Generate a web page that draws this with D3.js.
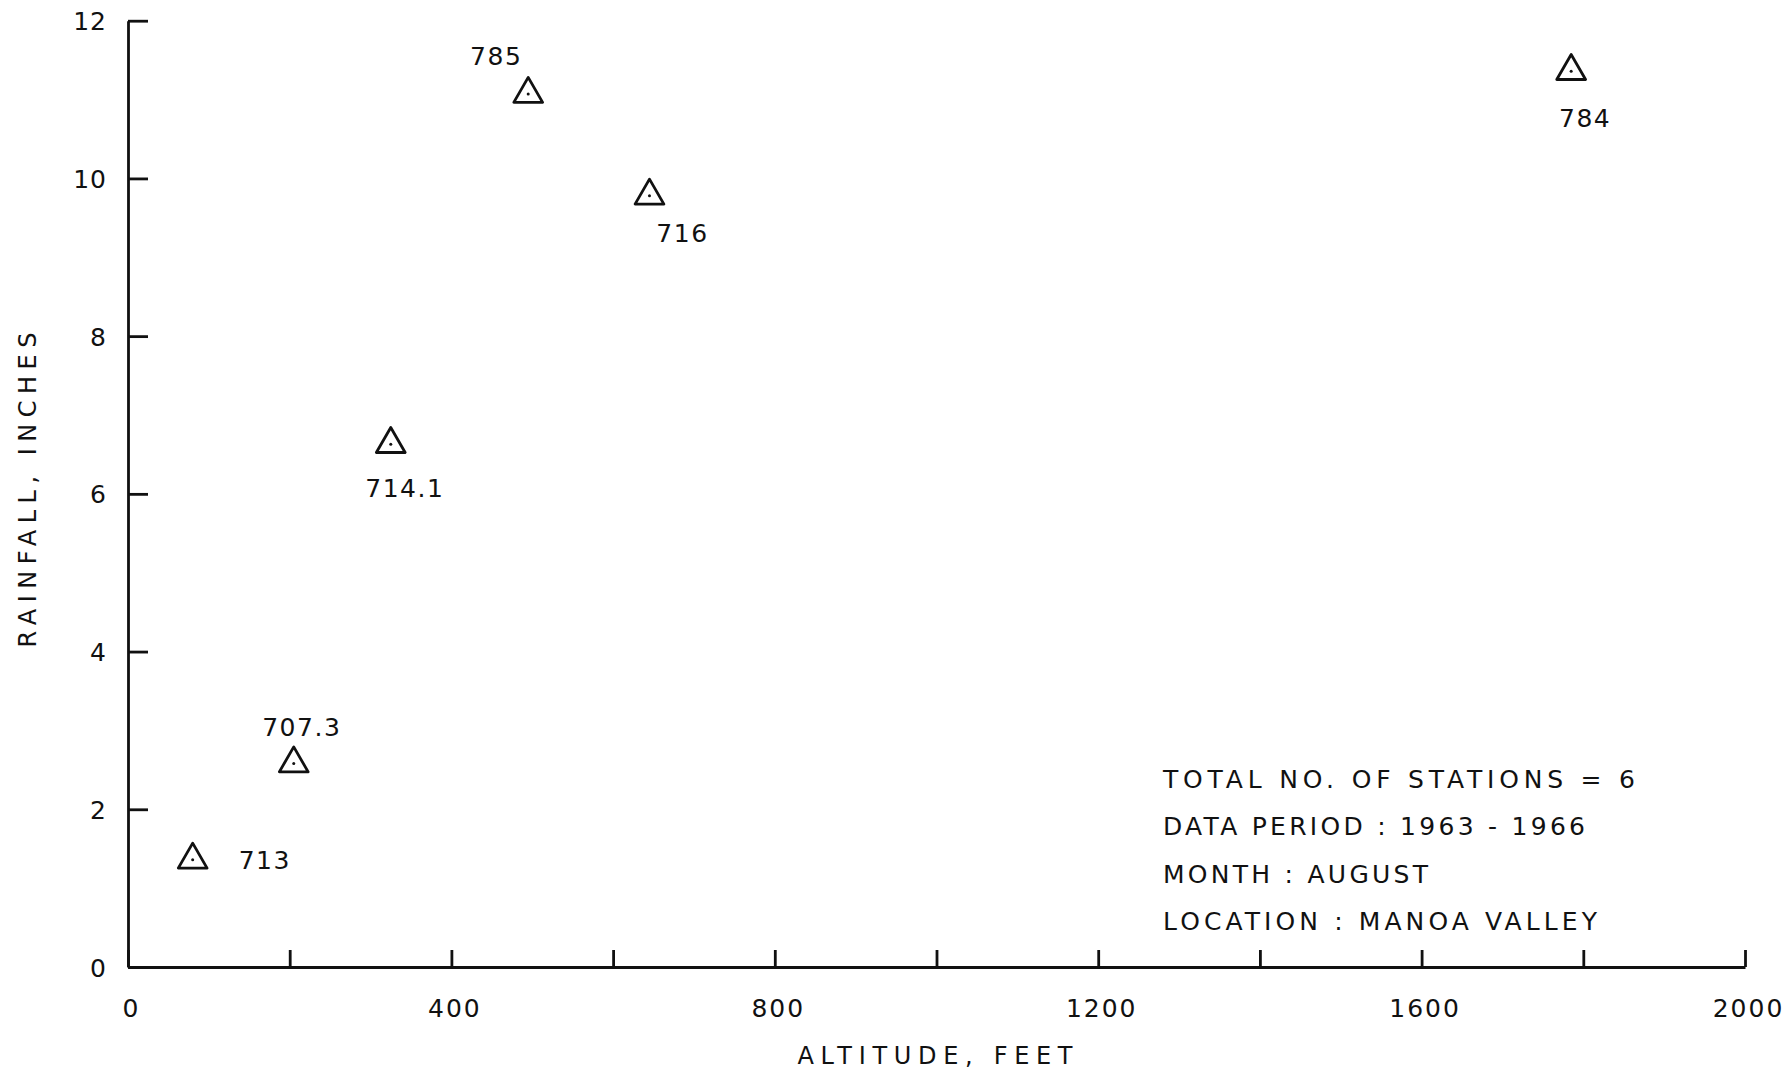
<!DOCTYPE html>
<html>
<head>
<meta charset="utf-8">
<script src="https://cdn.jsdelivr.net/npm/d3@7"></script>
<style>
  body { margin: 0; background: #fff; }
  svg text { font-family: "DejaVu Sans", "Liberation Sans", sans-serif; fill: #111; }
</style>
</head>
<body>
<div id="chart"></div>
<script>
// station numbers, altitude (feet) and August rainfall (inches)
var stations = ['713', '707.3', '714.1', '785', '716', '784'];
var altitude = [80, 205, 325, 495, 645, 1785];
var rainfall = [1.36, 2.58, 6.63, 11.07, 9.78, 11.36];

var xTicks = [0, 200, 400, 600, 800, 1000, 1200, 1400, 1600, 1800, 2000];
var xLabels = [0, 400, 800, 1200, 1600, 2000];
var yTicks = [0, 2, 4, 6, 8, 10, 12];

var notes = [
  'TOTAL  NO.  OF  STATIONS  =  6',
  'DATA  PERIOD :  1963 - 1966',
  'MONTH :  AUGUST',
  'LOCATION :  MANOA  VALLEY'
];
var noteWidths = [472, 422, 265, 434];

// where each station number sits relative to its point
var labelOffset = [[46, 9, 'start'], [8, -28, 'middle'], [14, 53, 'middle'],
                   [-32, -29, 'middle'], [33, 46, 'middle'], [14, 56, 'middle']];

var W = 1787, H = 1081;
var svg = d3.select('#chart').append('svg')
  .attr('width', W)
  .attr('height', H);

var x = d3.scaleLinear().domain([0, 2000]).range([128, 1745]);
var y = d3.scaleLinear().domain([0, 12]).range([967, 20.7]);

var xAxis = svg.append('g')
  .attr('transform', 'translate(0,' + y(0) + ')')
  .call(d3.axisBottom(x).tickValues(xTicks).tickSize(-17).tickSizeOuter(0)
    .tickFormat(function (d) { return xLabels.indexOf(d) >= 0 ? d : ''; }));

var yAxis = svg.append('g')
  .attr('transform', 'translate(' + x(0) + ',0)')
  .call(d3.axisLeft(y).tickValues(yTicks).tickSize(-20).tickSizeOuter(0).tickPadding(21));

svg.selectAll('.domain, .tick line')
  .attr('stroke', '#111')
  .attr('stroke-width', 2.8);

xAxis.selectAll('.tick text')
  .attr('y', 50)
  .attr('dy', 0)
  .attr('dx', 3)
  .attr('font-size', 25)
  .attr('letter-spacing', 2)
  .attr('fill', '#111');

yAxis.selectAll('.tick text')
  .attr('dy', '0.36em')
  .attr('font-size', 25)
  .attr('letter-spacing', 1)
  .attr('fill', '#111');

// axis titles
svg.append('text')
  .attr('x', 935)
  .attr('y', 1064)
  .attr('text-anchor', 'middle')
  .attr('font-size', 24)
  .attr('textLength', 275)
  .attr('lengthAdjust', 'spacing')
  .text('ALTITUDE,  FEET');

svg.append('text')
  .attr('transform', 'translate(36,490) rotate(-90)')
  .attr('text-anchor', 'middle')
  .attr('font-size', 24)
  .attr('textLength', 315)
  .attr('lengthAdjust', 'spacing')
  .text('RAINFALL,  INCHES');

// station markers
var pts = svg.selectAll('g.station')
  .data(stations)
  .enter()
  .append('g')
  .attr('class', 'station')
  .attr('transform', function (d, i) {
    return 'translate(' + x(altitude[i]) + ',' + y(rainfall[i]) + ')';
  });

pts.append('path')
  .attr('d', d3.symbol().type(d3.symbolTriangle).size(360))
  .attr('fill', 'none')
  .attr('stroke', '#111')
  .attr('stroke-width', 2.8)
  .attr('stroke-linejoin', 'round');

pts.append('circle')
  .attr('r', 1.5)
  .attr('fill', '#111');

pts.append('text')
  .attr('x', function (d, i) { return labelOffset[i][0]; })
  .attr('y', function (d, i) { return labelOffset[i][1]; })
  .attr('text-anchor', function (d, i) { return labelOffset[i][2]; })
  .attr('font-size', 25)
  .attr('letter-spacing', 1.5)
  .text(function (d) { return d; });

// notes box
svg.selectAll('text.note')
  .data(notes)
  .enter()
  .append('text')
  .attr('class', 'note')
  .attr('x', 1163)
  .attr('y', function (d, i) { return 788 + i * 47.3; })
  .attr('font-size', 25)
  .attr('textLength', function (d, i) { return noteWidths[i]; })
  .attr('lengthAdjust', 'spacing')
  .text(function (d) { return d; });
</script>
</body>
</html>
